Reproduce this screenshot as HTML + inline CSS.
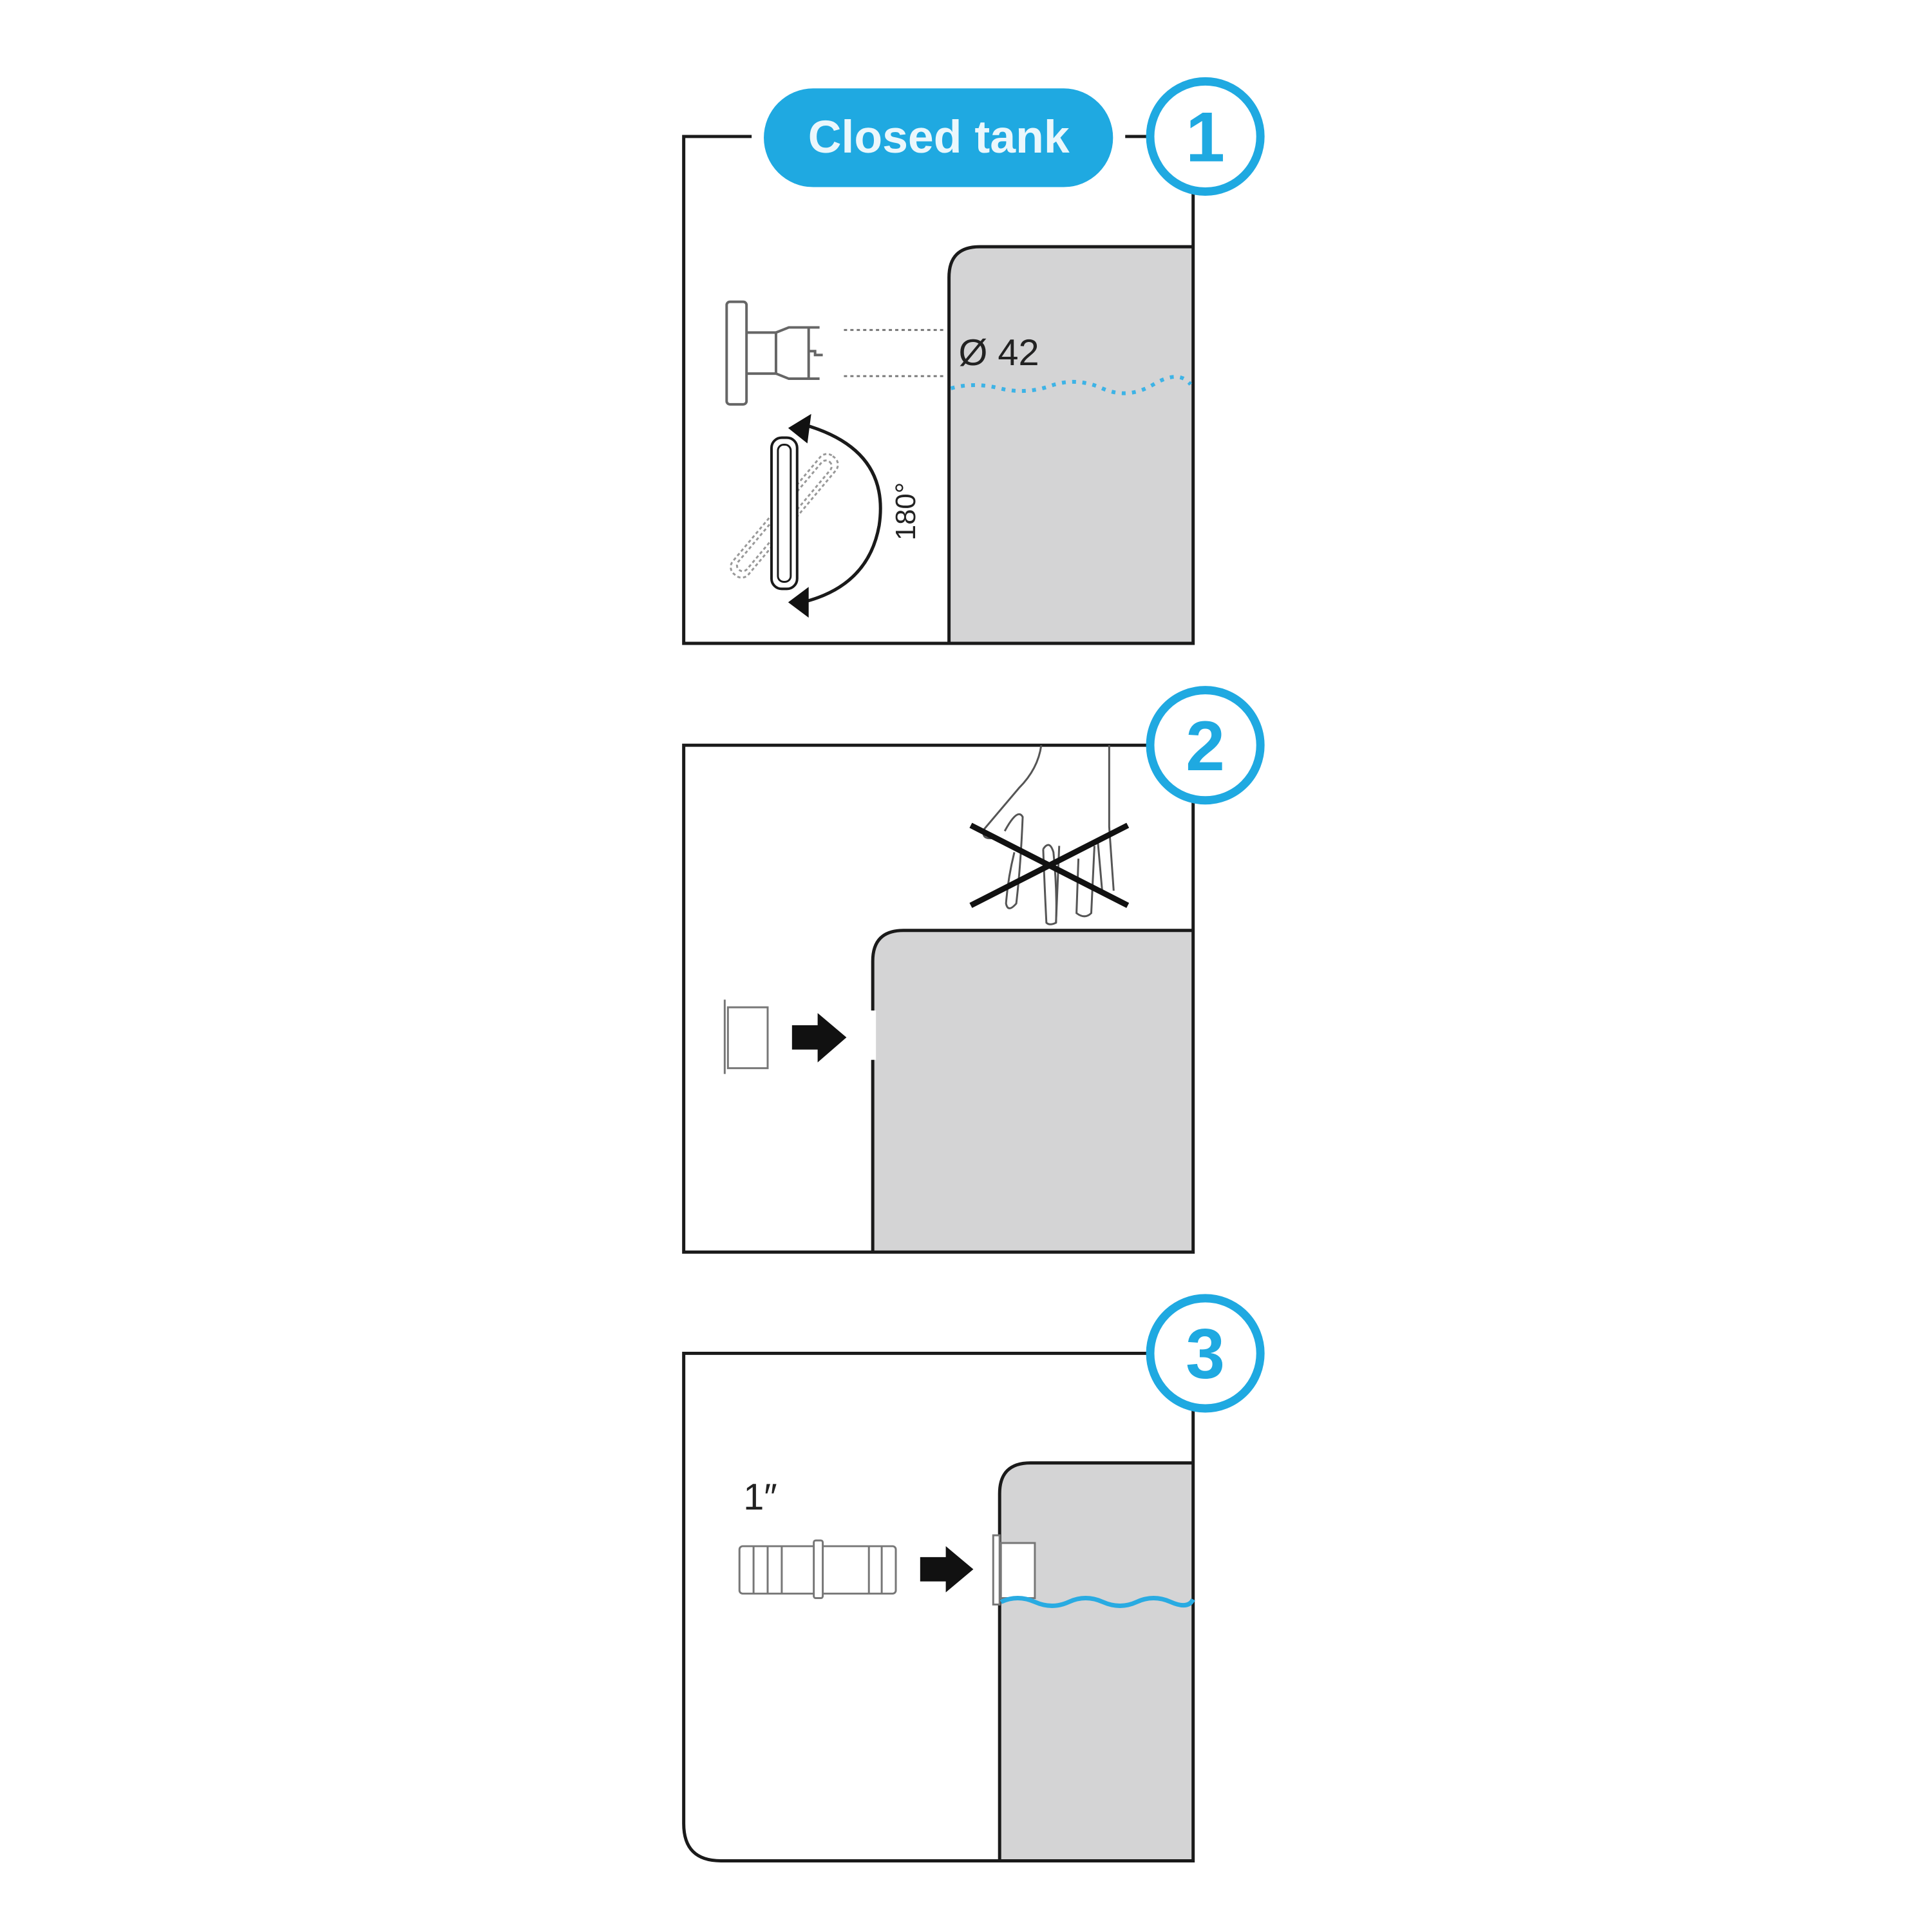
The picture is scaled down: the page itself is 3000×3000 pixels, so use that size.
<!DOCTYPE html>
<html><head><meta charset="utf-8"><style>html,body{margin:0;padding:0;background:#fff}svg{display:block}</style></head>
<body>
<svg width="3000" height="3000" viewBox="0 0 3000 3000" xmlns="http://www.w3.org/2000/svg">
<g transform="scale(0.995)">
<g fill="none" stroke="#1a1a1a" stroke-width="5">
<path d="M1481 1004 V433 Q1481 385 1529 385 H1862 V1004 Z" fill="#d4d4d5" stroke="none"/>
<path d="M1173 213 H1067 V1004 H1862 V300"/>
<path d="M1481 1004 V433 Q1481 385 1529 385 H1862"/>
<path d="M1756 213 H1790"/>
<g stroke="#666" stroke-width="4">
<rect x="1134" y="471" width="31" height="160" rx="5"/>
<path d="M1165 519 H1211 V583 H1165"/>
<path d="M1211 519 L1231 511 H1262 V591 H1231 L1211 583"/>
<path d="M1262 511 H1279 M1262 591 H1279 M1262 548 H1272 V554 H1284"/>
</g>
<path d="M1317 515 H1477 M1317 587 H1477" stroke="#777" stroke-width="3" stroke-dasharray="5 5"/>
<path d="M1484 606 Q1520 596 1560 606 T1640 602 T1720 606 T1800 600 T1858 600" stroke="#3db3e6" stroke-width="6" stroke-dasharray="6 10"/>
<g transform="rotate(40 1224 805)" stroke="#999" stroke-width="3" stroke-dasharray="5 4">
<rect x="1208" y="685" width="32" height="240" rx="14"/>
<rect x="1215" y="695" width="18" height="220" rx="9"/>
</g>
<rect x="1204" y="683" width="40" height="236" rx="16" fill="#fff" stroke-width="4"/>
<rect x="1214" y="694" width="20" height="214" rx="9" stroke-width="3"/>
<path d="M1252 662 Q1390 700 1372 820 Q1355 915 1252 940" stroke-width="5"/>
</g>
<polygon points="1230,668 1266,646 1260,692" fill="#111"/>
<polygon points="1230,940 1262,916 1262,964" fill="#111"/>
<text x="1428" y="798" transform="rotate(-90 1428 798)" text-anchor="middle" font-family="Liberation Sans, sans-serif" font-size="44" fill="#222">180°</text>
<text x="1496" y="570" font-family="Liberation Sans, sans-serif" font-size="58" fill="#222">Ø 42</text>
<rect x="1192" y="138" width="545" height="154" rx="77" fill="#1fa9e1"/>
<text x="1465" y="238" text-anchor="middle" font-family="Liberation Sans, sans-serif" font-weight="bold" font-size="72" fill="#eaf7fc">Closed tank</text>
<circle cx="1881" cy="213" r="86" fill="#fff" stroke="#1fa9e1" stroke-width="13"/>
<text x="1881" y="252" text-anchor="middle" font-family="Liberation Sans, sans-serif" font-weight="bold" font-size="110" fill="#1fa9e1">1</text>

<g fill="none" stroke="#1a1a1a" stroke-width="5">
<path d="M1362 1954 V1500 Q1362 1452 1410 1452 H1862 V1954 Z" fill="#d4d4d5" stroke="none"/>
<rect x="1359" y="1577" width="8" height="77" fill="#fff" stroke="none"/>
<path d="M1790 1163 H1067 V1954 H1862 V1250"/>
<path d="M1362 1954 V1654 M1362 1577 V1500 Q1362 1452 1410 1452 H1862"/>
<g stroke="#555" stroke-width="3">
<path d="M1625 1163 Q1620 1200 1590 1230 L1535 1295 Q1532 1310 1548 1308"/>
<path d="M1731 1163 V1290 L1738 1390"/>
<path d="M1568 1297 Q1588 1260 1596 1275 Q1593 1350 1586 1410 Q1573 1425 1570 1410 Q1573 1370 1583 1330"/>
<path d="M1628 1325 Q1638 1310 1644 1330 Q1650 1390 1648 1440 Q1638 1445 1633 1440 Q1630 1380 1628 1325"/>
<path d="M1653 1320 L1648 1440"/>
<path d="M1683 1340 L1680 1425 Q1693 1435 1703 1425 L1708 1320"/>
<path d="M1713 1310 L1720 1390"/>
</g>
<path d="M1515 1288 L1760 1413 M1515 1413 L1760 1288" stroke="#111" stroke-width="9"/>
<g stroke="#777" stroke-width="3">
<path d="M1131 1560 V1676"/>
<rect x="1136" y="1572" width="62" height="95" fill="#fff"/>
</g>
</g>
<polygon points="1236,1600 1276,1600 1276,1581 1321,1619 1276,1658 1276,1638 1236,1638" fill="#111"/>
<circle cx="1881" cy="1163" r="86" fill="#fff" stroke="#1fa9e1" stroke-width="13"/>
<text x="1881" y="1202" text-anchor="middle" font-family="Liberation Sans, sans-serif" font-weight="bold" font-size="110" fill="#1fa9e1">2</text>

<g fill="none" stroke="#1a1a1a" stroke-width="5">
<path d="M1560 2904 V2331 Q1560 2283 1608 2283 H1862 V2904 Z" fill="#d4d4d5" stroke="none"/>
<path d="M1790 2112 H1067 V2846 Q1067 2904 1125 2904 H1862 V2200"/>
<path d="M1560 2904 V2331 Q1560 2283 1608 2283 H1862"/>
<g stroke="#777" stroke-width="3">
<rect x="1154" y="2413" width="244" height="74" rx="5" fill="#fff"/>
<path d="M1176 2413 V2487 M1198 2413 V2487 M1220 2413 V2487 M1356 2413 V2487 M1376 2413 V2487"/>
<rect x="1270" y="2404" width="14" height="90" rx="3" fill="#fff"/>
<rect x="1550" y="2396" width="10" height="108" fill="#fff"/>
<rect x="1562" y="2408" width="53" height="86" fill="#fff"/>
</g>
<path d="M1562 2500 q26 -12 53 0 t53 0 t53 0 t53 0 t53 0 t35 -4" stroke="#29abe2" stroke-width="7"/>
</g>
<polygon points="1436,2430 1476,2430 1476,2413 1519,2449 1476,2485 1476,2468 1436,2468" fill="#111"/>
<text x="1160" y="2356" font-family="Liberation Sans, sans-serif" font-size="58" fill="#222">1″</text>
<circle cx="1881" cy="2112" r="86" fill="#fff" stroke="#1fa9e1" stroke-width="13"/>
<text x="1881" y="2151" text-anchor="middle" font-family="Liberation Sans, sans-serif" font-weight="bold" font-size="110" fill="#1fa9e1">3</text>
</g>
</svg>
</body></html>
